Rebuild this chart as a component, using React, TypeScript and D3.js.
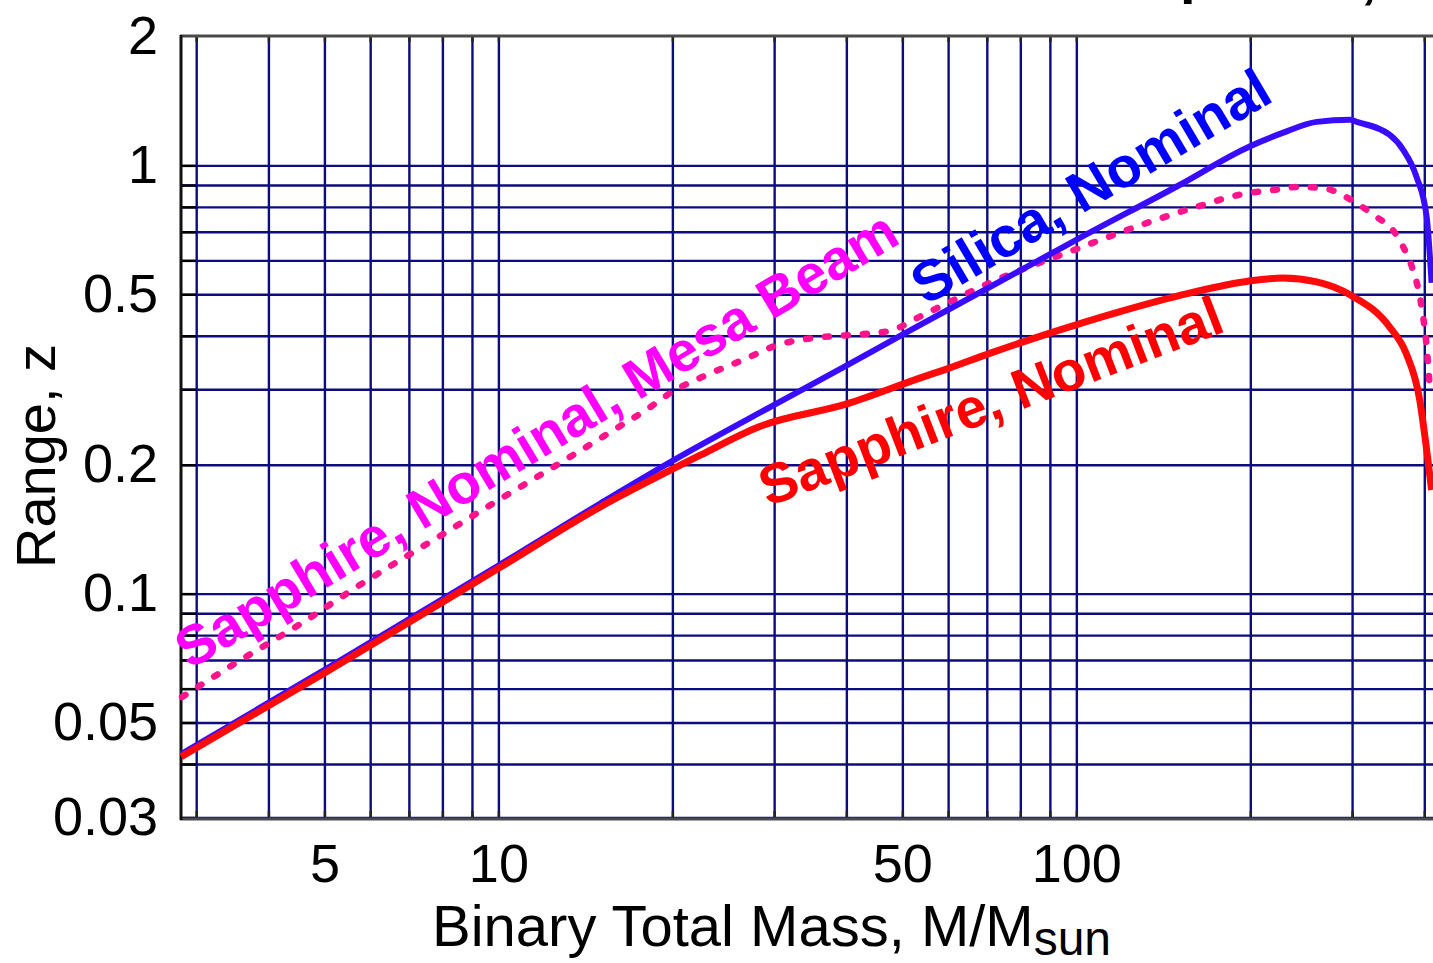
import React from "react";
import * as d3 from "d3";

// ---- data ----
const xGridValues = [3, 4, 5, 6, 7, 8, 9, 10, 20, 30, 40, 50, 60, 70, 80, 90, 100, 200, 300, 400];
const yGridValues = [0.03, 0.04, 0.05, 0.06, 0.07, 0.08, 0.09, 0.1, 0.2, 0.3, 0.4, 0.5, 0.6, 0.7, 0.8, 0.9, 1];
const xTickLabels = [5, 10, 50, 100];
const yTickLabels = [2, 1, 0.5, 0.2, 0.1, 0.05, 0.03];

const silicaMass = [2.82, 5, 10, 15, 20, 30, 40, 50, 60, 80, 100, 150, 199, 227, 260, 297, 305, 348, 367, 387, 403, 411];
const silicaRange = [0.0423, 0.0666, 0.1167, 0.163, 0.205, 0.277, 0.342, 0.404, 0.462, 0.571, 0.673, 0.9, 1.11, 1.194, 1.267, 1.281, 1.267, 1.181, 1.09, 0.943, 0.76, 0.533];

const sapphireMass = [2.82, 5, 10, 15, 20, 22.3, 28.2, 40, 54.4, 59, 70.7, 89.8, 118.8, 156, 197.6, 227, 260, 297, 348, 371, 392, 403, 411];
const sapphireRange = [0.0417, 0.0655, 0.115, 0.16, 0.196, 0.211, 0.246, 0.278, 0.322, 0.334, 0.365, 0.407, 0.457, 0.504, 0.538, 0.547, 0.536, 0.5, 0.42, 0.366, 0.284, 0.217, 0.175];

const mesaMass = [2.83, 3.49, 4.58, 5.68, 8, 10, 12.5, 15.75, 18.25, 19.8, 22.9, 26.4, 30.6, 35.5, 41, 47.5, 53.4, 60, 70, 100, 130, 160, 199, 213, 243, 271, 288, 308, 330, 352, 367, 380, 395, 403, 408];
const mesaRange = [0.0575, 0.0688, 0.0859, 0.104, 0.138, 0.166, 0.199, 0.241, 0.273, 0.295, 0.325, 0.352, 0.383, 0.397, 0.403, 0.412, 0.444, 0.48, 0.53, 0.64, 0.73, 0.8, 0.865, 0.874, 0.893, 0.884, 0.855, 0.811, 0.76, 0.709, 0.647, 0.581, 0.468, 0.378, 0.304];

const seriesLabels = ["Silica, Nominal", "Sapphire, Nominal", "Sapphire, Nominal, Mesa Beam"];

const FONT = "'Liberation Sans', Arial, Helvetica, sans-serif";

export default function App() {
  const W = 1433;
  const H = 963;
  const x = d3.scaleLog().domain([2.818, 425]).range([181, 1440]);
  const y = d3.scaleLog().domain([0.03, 2]).range([818, 37]);

  const line = d3
    .line<[number, number]>()
    .x((d) => x(d[0]))
    .y((d) => y(d[1]))
    .curve(d3.curveMonotoneX);

  const zip = (a: number[], b: number[]) => a.map((v, i) => [v, b[i]] as [number, number]);

  const gridColor = "#0c0c80";
  const left = 181;
  const right = 1440;
  const top = 37;
  const bottom = 818;

  return (
    <svg
      width={W}
      height={H}
      style={{ position: "absolute", left: 0, top: 0, background: "#fff" }}
      fontFamily={FONT}
    >
      <rect x={0} y={0} width={W} height={H} fill="#fff" />
      {/* partial title cut at top */}
      <text x={1180} y={-8} fontSize={56} fontWeight="bold" fill="#000">p</text>
      <text x={1361} y={-3} fontSize={56} fontWeight="bold" fill="#000">,</text>

      {/* grid */}
      {xGridValues.map((v) => (
        <line key={"gx" + v} x1={x(v)} x2={x(v)} y1={top} y2={bottom} stroke={gridColor} strokeWidth={2.4} />
      ))}
      {yGridValues.map((v) => (
        <line key={"gy" + v} x1={left} x2={right} y1={y(v)} y2={y(v)} stroke={gridColor} strokeWidth={2.4} />
      ))}
      {/* ticks */}
      {yGridValues.map((v) => (
        <line key={"ty" + v} x1={left} x2={left + 15} y1={y(v)} y2={y(v)} stroke="#000" strokeWidth={2.4} />
      ))}
      {xGridValues.map((v) => (
        <g key={"tx" + v}>
          <line x1={x(v)} x2={x(v)} y1={bottom} y2={bottom - 7} stroke="#222" strokeWidth={2.4} />
          <line x1={x(v)} x2={x(v)} y1={top} y2={top + 5} stroke="#222" strokeWidth={2.4} />
        </g>
      ))}
      {/* frame */}
      <line x1={left - 1} x2={W} y1={top - 1} y2={top - 1} stroke="#4a4a4a" strokeWidth={3} />
      <line x1={left - 1} x2={W} y1={bottom + 1} y2={bottom + 1} stroke="#4a4a4a" strokeWidth={3} />
      <line x1={left} x2={left} y1={top - 2} y2={bottom + 2} stroke="#111" strokeWidth={3} />

      {/* curves */}
      <path d={line(zip(mesaMass, mesaRange)) || ""} fill="none" stroke="#ff148c" strokeWidth={6.5} strokeDasharray="4 15" strokeLinecap="round" />
      <path d={line(zip(silicaMass, silicaRange)) || ""} fill="none" stroke="#3a0cff" strokeWidth={6} strokeLinejoin="round" />
      <path d={line(zip(sapphireMass, sapphireRange)) || ""} fill="none" stroke="#ff0a0a" strokeWidth={7} strokeLinejoin="round" />

      {/* curve labels */}
      <text transform="translate(926,306) rotate(-30.5)" fontSize={57} fontWeight="bold" fill="#0000ff">{seriesLabels[0]}</text>
      <text transform="translate(768,507) rotate(-21)" fontSize={56} fontWeight="bold" fill="#ff0000">{seriesLabels[1]}</text>
      <text transform="translate(190,670) rotate(-31)" fontSize={56} fontWeight="bold" fill="#ff00ff">{seriesLabels[2]}</text>

      {/* y tick labels */}
      {yTickLabels.map((v) => (
        <text key={"yl" + v} x={158} y={y(v) + 17} fontSize={54} textAnchor="end" fill="#000">{String(v)}</text>
      ))}
      {/* x tick labels */}
      {xTickLabels.map((v) => (
        <text key={"xl" + v} x={x(v)} y={882} fontSize={54} textAnchor="middle" fill="#000">{String(v)}</text>
      ))}
      {/* axis titles */}
      <text x={432} y={946} fontSize={58} fill="#000">
        Binary Total Mass, M/M<tspan fontSize={48} dy={9}>sun</tspan>
      </text>
      <text transform="translate(55,456) rotate(-90)" fontSize={56} textAnchor="middle" fill="#000">Range, z</text>
    </svg>
  );
}
